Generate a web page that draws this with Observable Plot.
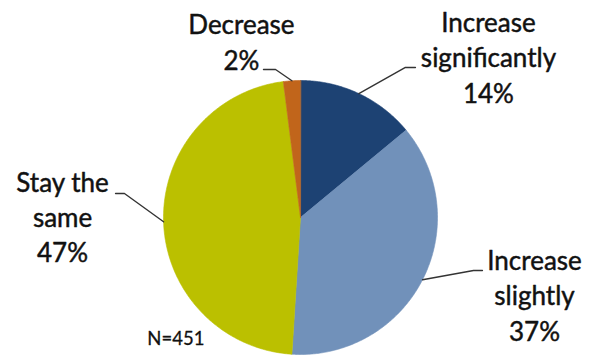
<!DOCTYPE html>
<html>
<head>
<meta charset="utf-8">
<script src="https://cdn.jsdelivr.net/npm/d3@7"></script>
<script src="https://cdn.jsdelivr.net/npm/@observablehq/plot@0.6"></script>
<style>
  body { margin: 0; background: #fff; }
  #chart svg { display: block; }
</style>
</head>
<body>
<div id="chart"></div>
<script>
// Survey answers, clockwise from 12 o'clock
const categories = ["Increase significantly", "Increase slightly", "Stay the same", "Decrease"];
const shares = [14, 37, 47, 2];
const labelText = ["Increase\nsignificantly", "Increase\nslightly", "Stay the\nsame", "Decrease"];
const sampleNote = "N=451";

const sliceColors = ["#1d4273", "#7191ba", "#bbc000", "#c1651b"];

// Label placement in pie-radius units (centre of the pie at 0,0, y up)
const leaderElbow = [[0.766, 1.095], [1.263, -0.387], [-1.285, 0.175], [-0.182, 1.080]];
const leaderEnd   = [[0.839, 1.095], [1.328, -0.387], [-1.350, 0.175], [-0.270, 1.080]];
const labelAnchor = [[1.372, 0.839], [1.708, -0.898], [-1.737, -0.328], [-0.431, 1.080]];
const notePos = [-1.118, -0.934];

// Pixel frame: pie centre at (300, 217), radius 137
const W = 590, H = 356, cx = 300, cy = 217, R = 137;

const arcs = d3.pie().sort(null).value(d => d)(shares);

// Wedge outlines as polygons (angles measured clockwise from the top)
const wedgePts = [];
arcs.forEach((a, i) => {
  const steps = Math.max(4, Math.ceil((a.endAngle - a.startAngle) / 0.01));
  wedgePts.push({k: i, x: 0, y: 0});
  for (let s = 0; s <= steps; ++s) {
    const t = a.startAngle + (a.endAngle - a.startAngle) * s / steps;
    wedgePts.push({k: i, x: Math.sin(t), y: Math.cos(t)});
  }
});

// Leader lines: from the rim at each slice's mid-angle to the elbow and on to the label
const leaderPts = [];
arcs.forEach((a, i) => {
  const m = (a.startAngle + a.endAngle) / 2;
  leaderPts.push({k: i, x: Math.sin(m), y: Math.cos(m)});
  leaderPts.push({k: i, x: leaderElbow[i][0], y: leaderElbow[i][1]});
  leaderPts.push({k: i, x: leaderEnd[i][0], y: leaderEnd[i][1]});
});

const labels = categories.map((c, i) => ({
  x: labelAnchor[i][0],
  y: labelAnchor[i][1],
  text: `${labelText[i]}\n${shares[i]}%`
}));

const chart = Plot.plot({
  width: W,
  height: H,
  margin: 0,
  x: {domain: [-cx / R, (W - cx) / R], axis: null},
  y: {domain: [-(H - cy) / R, cy / R], axis: null},
  color: {domain: d3.range(categories.length), range: sliceColors},
  style: {background: "#fff"},
  marks: [
    Plot.line(wedgePts, {x: "x", y: "y", z: "k", fill: "k", stroke: "k", strokeWidth: 0.6, curve: "linear-closed"}),
    Plot.line(leaderPts, {x: "x", y: "y", z: "k", stroke: "#333", strokeWidth: 1.4}),
    Plot.text(labels, {
      x: "x", y: "y", text: "text",
      textAnchor: "middle", lineAnchor: "bottom", lineHeight: 1.35,
      fontSize: 26, fontFamily: "Lato", fill: "#111", stroke: "#111", strokeWidth: 0.45
    }),
    Plot.text([sampleNote], {
      x: notePos[0], y: notePos[1], text: d => d,
      textAnchor: "start", lineAnchor: "bottom",
      fontSize: 18.5, fontFamily: "Lato", fill: "#111", stroke: "#111", strokeWidth: 0.3
    })
  ]
});

document.getElementById("chart").append(chart);
</script>
</body>
</html>
